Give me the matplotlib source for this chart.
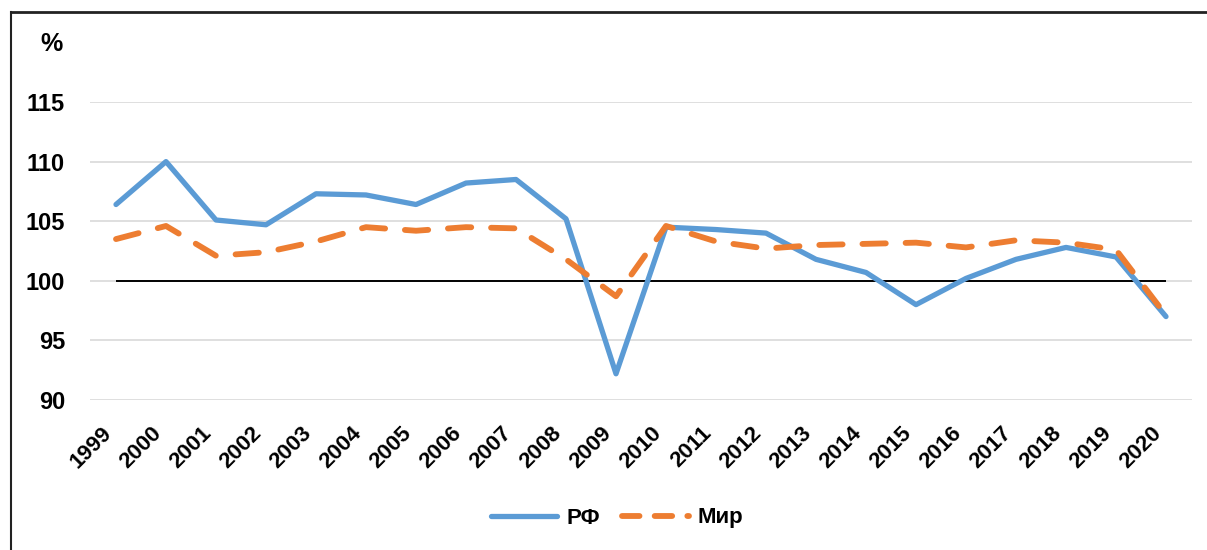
import numpy as np
import matplotlib
matplotlib.use('Agg')
import matplotlib.pyplot as plt
from matplotlib.lines import Line2D

plt.rcParams['font.family'] = ['Liberation Sans', 'DejaVu Sans']
plt.rcParams['font.weight'] = 'bold'

# Data
years = [str(y) for y in range(1999, 2021)]
rf = [106.4, 110.0, 105.1, 104.7, 107.3, 107.2, 106.4, 108.2, 108.5, 105.2,
      92.2, 104.5, 104.3, 104.0, 101.8, 100.7, 98.0, 100.2, 101.8, 102.8,
      102.0, 97.0]
mir = [103.5, 104.6, 102.1, 102.4, 103.3, 104.5, 104.2, 104.5, 104.4, 101.8,
       98.7, 104.6, 103.3, 102.7, 103.0, 103.1, 103.2, 102.8, 103.4, 103.2,
       102.6, 97.1]
yticks = [90, 95, 100, 105, 110, 115]

blue = '#5B9BD5'
orange = '#ED7D31'

fig = plt.figure(figsize=(12.07, 5.5), dpi=100)
ax = fig.add_axes([90/1207, 1 - 400/550, 1102/1207, 298/550])

x = np.arange(len(years))
ax.hlines(100, x[0], x[-1], color='black', lw=1.4, zorder=2)
ax.plot(x, rf, color=blue, lw=3.8, solid_capstyle='round', solid_joinstyle='round',
        zorder=3, label='РФ')
ax.plot(x, mir, color=orange, lw=4.2, dashes=(4.0, 3.4), dash_capstyle='round',
        zorder=4, label='Мир')

ax.set_xlim(-0.52, len(years) - 0.48)
ax.set_ylim(90, 115)
ax.set_yticks(yticks)
ax.set_xticks(x)
ax.set_xticklabels(years, rotation=45, ha='right', va='top', fontsize=16,
                   fontweight='bold')
ax.tick_params(axis='x', length=0, pad=16)
ax.tick_params(axis='y', length=0, pad=18, labelsize=17)
for lab in ax.get_yticklabels():
    lab.set_fontweight('bold')
ax.grid(axis='y', color='#d9d9d9', lw=1.2, zorder=0)
for s in ax.spines.values():
    s.set_visible(False)

fig.text(40/1207, 1 - 44/550, '%', fontsize=18, fontweight='bold', va='center')

handles = [Line2D([], [], color=blue, lw=3.8, solid_capstyle='round'),
           Line2D([], [], color=orange, lw=4.2, dashes=(3.0, 2.6), dash_capstyle='round')]
fig.legend(handles, ['РФ', 'Мир'], loc='center', bbox_to_anchor=(617/1207, 1 - 518/550),
           ncol=2, frameon=False, handlelength=3.0, handletextpad=0.4,
           columnspacing=1.0, prop={'weight': 'bold', 'size': 16})

# outer frame (top and left edges visible in the reference)
fig.add_artist(Line2D([11/1207, 1.0], [1 - 12/550, 1 - 12/550], color='#222222', lw=2,
                      transform=fig.transFigure))
fig.add_artist(Line2D([11/1207, 11/1207], [1 - 12/550, 0.0], color='#222222', lw=1.5,
                      transform=fig.transFigure))

fig.savefig('out.png', dpi=100, facecolor='white')
